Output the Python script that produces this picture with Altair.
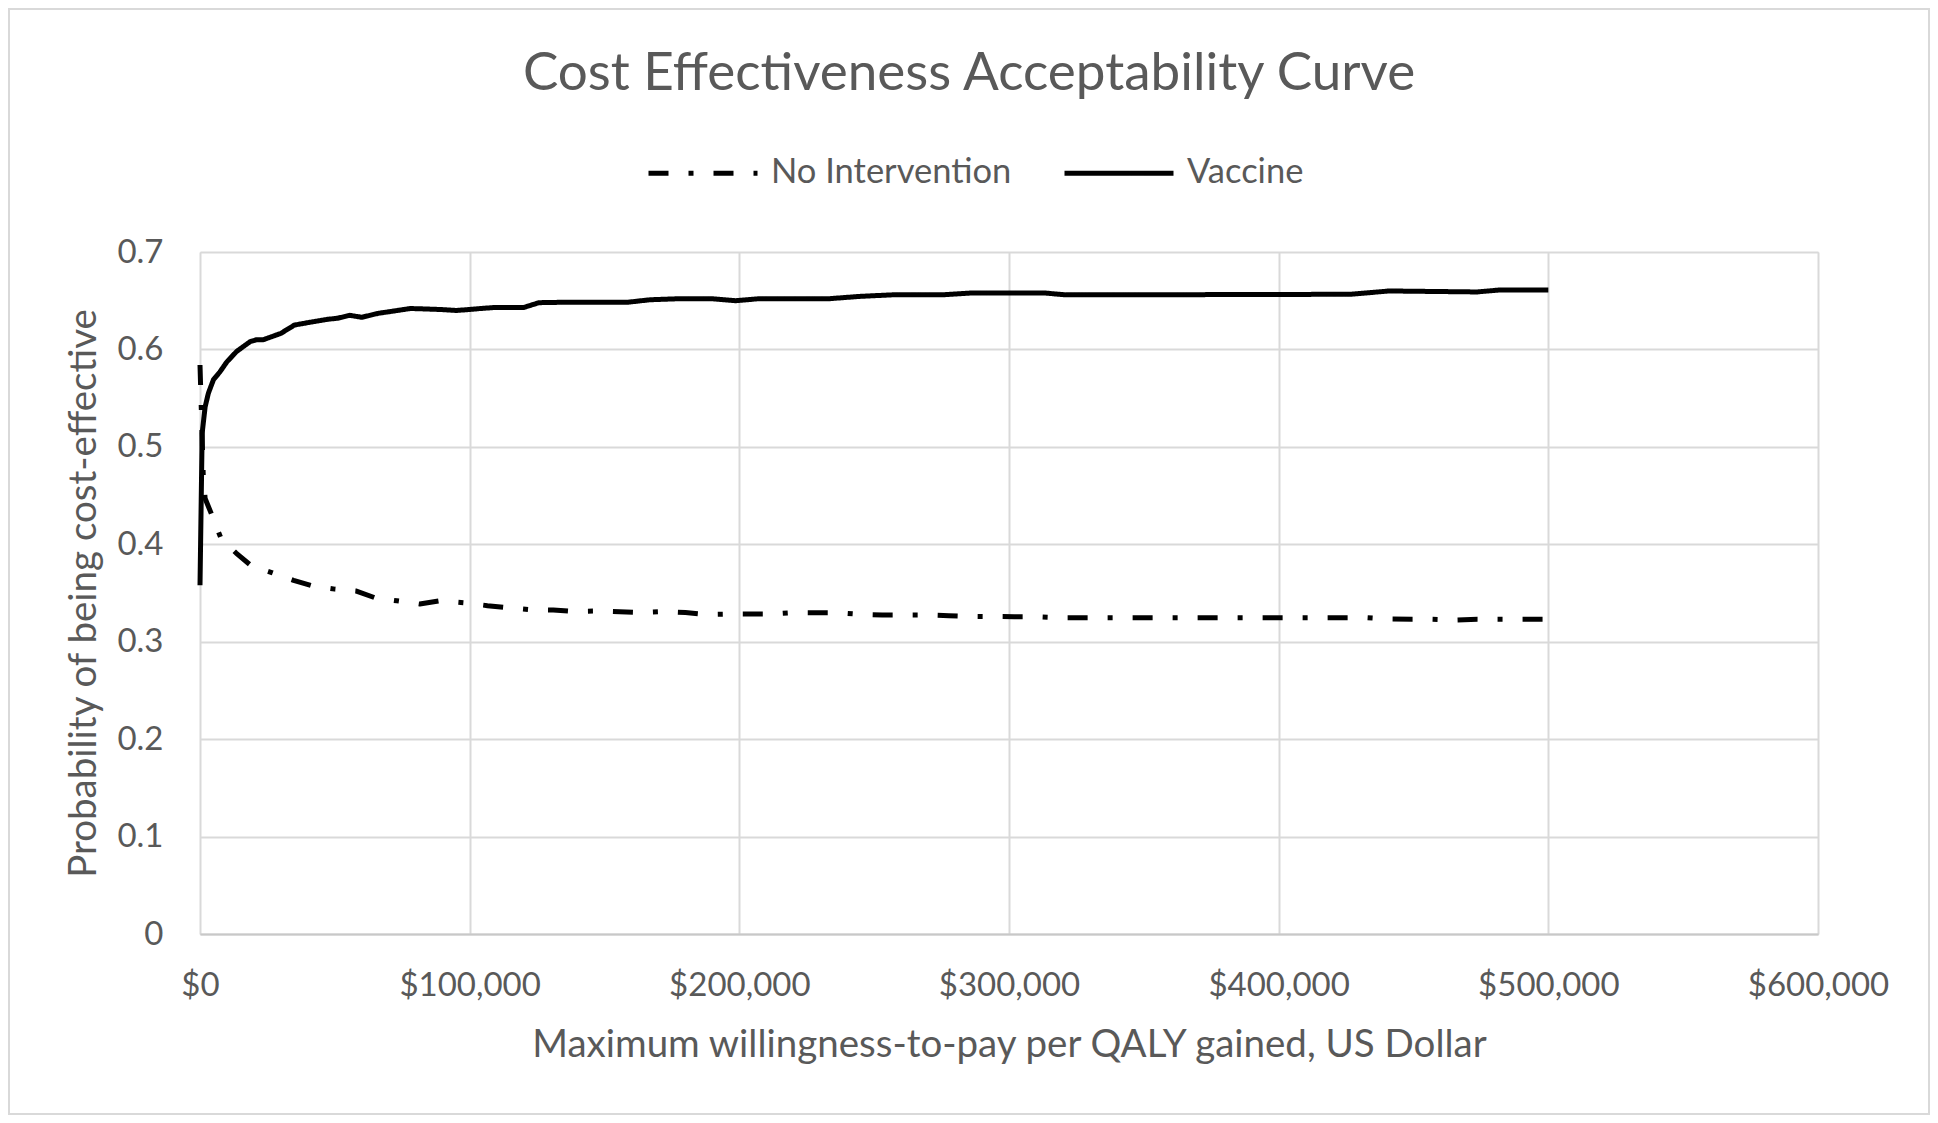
import altair as alt
import pandas as pd

# ---- data ----
strategies = ["No Intervention", "Vaccine"]

wtp_vaccine = [0, 800, 1900, 3100, 5000, 7400, 9900, 13600, 18600, 21000,
               23500, 30000, 35000, 40000, 47500, 51000, 55500, 60000, 66000, 72000,
               78000, 84000, 89000, 95000, 100000, 104000, 109000, 115000, 120000, 125700,
               137000, 158800, 167000, 177000, 190000, 198600, 207000, 233000, 245000, 256600,
               275000, 286500, 313000, 321000, 334000, 426600, 441000, 473500, 482000, 500000]
p_vaccine = [0.358, 0.514, 0.541, 0.555, 0.569, 0.577, 0.587, 0.598, 0.608, 0.610,
             0.610, 0.6165, 0.625, 0.6275, 0.631, 0.632, 0.635, 0.633, 0.637, 0.6395,
             0.642, 0.6415, 0.641, 0.640, 0.641, 0.642, 0.643, 0.643, 0.643, 0.648,
             0.6485, 0.6485, 0.651, 0.652, 0.652, 0.650, 0.652, 0.652, 0.6545, 0.656,
             0.656, 0.658, 0.658, 0.656, 0.656, 0.6566, 0.660, 0.659, 0.661, 0.661]

wtp_noint = [0, 1200, 1900, 4700, 7800, 13400, 19000, 26600, 34700, 42000,
             50000, 58000, 65000, 73000, 81500, 89000, 98000, 106600, 114000, 122000,
             131000, 138500, 147000, 163000, 171500, 180000, 187500, 195700, 212000, 220000,
             236000, 245000, 253000, 269600, 277700, 285000, 302000, 310000, 318500, 334000,
             416700, 432700, 441000, 449500, 457000, 465600, 473700, 482000, 500000]
p_noint = [0.584, 0.471, 0.447, 0.428, 0.406, 0.391, 0.378, 0.371, 0.363, 0.357,
           0.354, 0.352, 0.345, 0.342, 0.3387, 0.342, 0.340, 0.337, 0.335, 0.333,
           0.3325, 0.331, 0.3315, 0.330, 0.331, 0.330, 0.328, 0.3284, 0.3284, 0.3298,
           0.3298, 0.328, 0.3274, 0.3274, 0.3267, 0.326, 0.3257, 0.3257, 0.3247, 0.3247,
           0.3247, 0.3247, 0.3233, 0.323, 0.323, 0.3223, 0.323, 0.323, 0.323]

x_ticks = [0, 100000, 200000, 300000, 400000, 500000, 600000]
y_ticks = [0, 0.1, 0.2, 0.3, 0.4, 0.5, 0.6, 0.7]

df = pd.concat([
    pd.DataFrame({"wtp": wtp_noint, "p": p_noint, "strategy": strategies[0]}),
    pd.DataFrame({"wtp": wtp_vaccine, "p": p_vaccine, "strategy": strategies[1]}),
], ignore_index=True)

TEXT = "#595959"
GRID = "#d9d9d9"
W, H = 1618, 682
PAD = {"left": 192, "top": 244, "right": 112, "bottom": 181}

lines = alt.Chart(df).mark_line(
    color="black", strokeWidth=5, strokeCap="butt", strokeJoin="round"
).encode(
    x=alt.X("wtp:Q", scale=alt.Scale(domain=[0, 600000], nice=False),
            axis=alt.Axis(values=x_ticks, format="$,.0f",
                          title="Maximum willingness-to-pay per QALY gained, US Dollar",
                          titleFont="Lato", titleFontSize=38.5, titleFontWeight="normal",
                          titleColor=TEXT, titleX=W / 2, titleY=122.7,
                          titleBaseline="alphabetic",
                          labelFont="Lato", labelFontSize=33, labelColor=TEXT,
                          labelPadding=35, labelFlush=False, labelOverlap=False,
                          ticks=False, tickSize=0,
                          domain=True, domainColor="#c8c8c8", domainWidth=2,
                          grid=True, gridColor=GRID, gridWidth=2)),
    y=alt.Y("p:Q", scale=alt.Scale(domain=[0, 0.7], nice=False),
            axis=alt.Axis(values=y_ticks, format=".1~f",
                          title="Probability of being cost-effective",
                          titleFont="Lato", titleFontSize=38.5, titleFontWeight="normal",
                          titleColor=TEXT, titleX=-105, titleY=H / 2,
                          titleBaseline="alphabetic",
                          labelFont="Lato", labelFontSize=33, labelColor=TEXT,
                          labelPadding=37, labelOverlap=False,
                          ticks=False, tickSize=0, domain=False,
                          grid=True, gridColor=GRID, gridWidth=2)),
    strokeDash=alt.StrokeDash(
        "strategy:N",
        scale=alt.Scale(domain=strategies, range=[[20, 20, 5, 20], [1, 0]]),
        legend=alt.Legend(title=None, orient="none", legendX=446, legendY=-136,
                          direction="horizontal", symbolType="stroke",
                          symbolSize=11881, symbolStrokeWidth=5,
                          symbolStrokeColor="black",
                          labelFont="Lato", labelFontSize=34.5, labelColor=TEXT,
                          labelOffset=11, labelLimit=400, columnPadding=42,
                          padding=0)),
)

border = alt.Chart(pd.DataFrame({"b": [0]})).mark_rect(
    fill="white", fillOpacity=0, stroke=GRID, strokeWidth=2
).encode(
    x=alt.value(-PAD["left"] + 1), x2=alt.value(W + PAD["right"] - 1),
    y=alt.value(-PAD["top"] + 1), y2=alt.value(H + PAD["bottom"] - 1),
)

chart = alt.layer(border, lines).properties(
    width=W, height=H,
    autosize=alt.AutoSizeParams(type="none"),
    padding=PAD,
    title=alt.Title(text="Cost Effectiveness Acceptability Curve",
                    font="Lato", fontSize=53, fontWeight="normal", color=TEXT,
                    anchor="middle", dx=-40, offset=0, dy=135, baseline="alphabetic"),
).configure_view(strokeWidth=0).configure(font="Lato")

chart.save("out.html", embed_options={"renderer": "svg", "actions": False})
